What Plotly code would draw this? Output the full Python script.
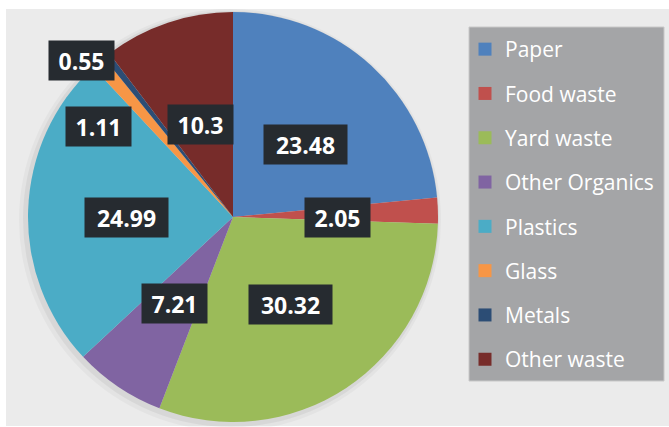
import math
import plotly.graph_objects as go

categories = ["Paper", "Food waste", "Yard waste", "Other Organics",
              "Plastics", "Glass", "Metals", "Other waste"]
values = [23.48, 2.05, 30.32, 7.21, 24.99, 1.11, 0.55, 10.3]
value_labels = ["23.48", "2.05", "30.32", "7.21", "24.99", "1.11", "0.55", "10.3"]

colors = ["#4f81bd", "#c0504d", "#9bbb59", "#8064a2",
          "#4bacc6", "#f79646", "#2c4d75", "#772c2a"]

# label placement (radial fraction of radius, angle nudge in degrees)
label_r = [0.50, 0.51, 0.51, 0.51, 0.52, 0.79, 1.06, 0.48]
label_da = [3, 2, 0, 0, -2, -15, -6, -1]

W, H = 669, 427
cx_px, cy_px, R = 233, 217, 205

fig = go.Figure()

# background panel
fig.add_shape(type="rect", xref="paper", yref="paper",
              x0=6 / W, x1=1, y0=1 / H, y1=1 - 9 / H,
              fillcolor="#ebebeb", line=dict(width=0), layer="below")
# soft shadow behind the pie
for grow, dx, dy, col in [(6, -3, 3, "rgba(0,0,0,0.03)"), (3, -2, 2, "rgba(0,0,0,0.05)")]:
    fig.add_shape(type="circle", xref="paper", yref="paper",
                  x0=(cx_px + dx - R - grow) / W, x1=(cx_px + dx + R + grow) / W,
                  y0=1 - (cy_px + dy + R + grow) / H, y1=1 - (cy_px + dy - R - grow) / H,
                  fillcolor=col, line=dict(width=0), layer="below")
# legend panel
fig.add_shape(type="rect", xref="paper", yref="paper",
              x0=469 / W, x1=664 / W, y0=1 - 381 / H, y1=1 - 27 / H,
              fillcolor="#a4a5a7", line=dict(color="#c8c8c8", width=1), layer="below")

fig.add_trace(go.Pie(
    labels=categories, values=values, sort=False, direction="clockwise",
    rotation=0, textinfo="none", showlegend=False, hoverinfo="label+value",
    marker=dict(colors=colors, line=dict(width=0)),
    domain=dict(x=[(cx_px - R) / W, (cx_px + R) / W],
                y=[(H - cy_px - R) / H, (H - cy_px + R) / H]),
))

# legend entries
for name, c in zip(categories, colors):
    fig.add_trace(go.Scatter(
        x=[None], y=[None], mode="markers", name=name, legendgroup=name,
        marker=dict(symbol="square", size=13, color=c, line=dict(width=0)),
    ))

# data labels
total = sum(values)
cum = 0.0
for v, txt, rf, da in zip(values, value_labels, label_r, label_da):
    mid = (cum + v / 2) / total * 360 + da
    cum += v
    th = math.radians(mid)
    px = cx_px + R * rf * math.sin(th)
    py = cy_px - R * rf * math.cos(th)
    fig.add_annotation(
        x=px / W, y=1 - py / H, xref="paper", yref="paper",
        text=f"<b>{txt}</b>", showarrow=False,
        font=dict(family="Open Sans", size=23, color="white"),
        bgcolor="#262b30", borderpad=4,
        width=18 * len(txt) - 15, height=31,
        xanchor="center", yanchor="middle",
    )

fig.update_layout(
    width=W, height=H, margin=dict(l=0, r=0, t=0, b=0, autoexpand=False),
    paper_bgcolor="white", plot_bgcolor="rgba(0,0,0,0)",
    xaxis=dict(visible=False), yaxis=dict(visible=False),
    showlegend=True,
    legend=dict(
        x=465 / W, y=1 - 29 / H, xanchor="left", yanchor="top",
        bgcolor="rgba(0,0,0,0)", borderwidth=0,
        font=dict(family="Open Sans", size=21, color="white"),
        tracegroupgap=14, itemwidth=30,
    ),
)

fig.write_html("out.html", config={"displayModeBar": False},
               post_script="document.body.style.margin='0';document.body.style.overflow='hidden';")
